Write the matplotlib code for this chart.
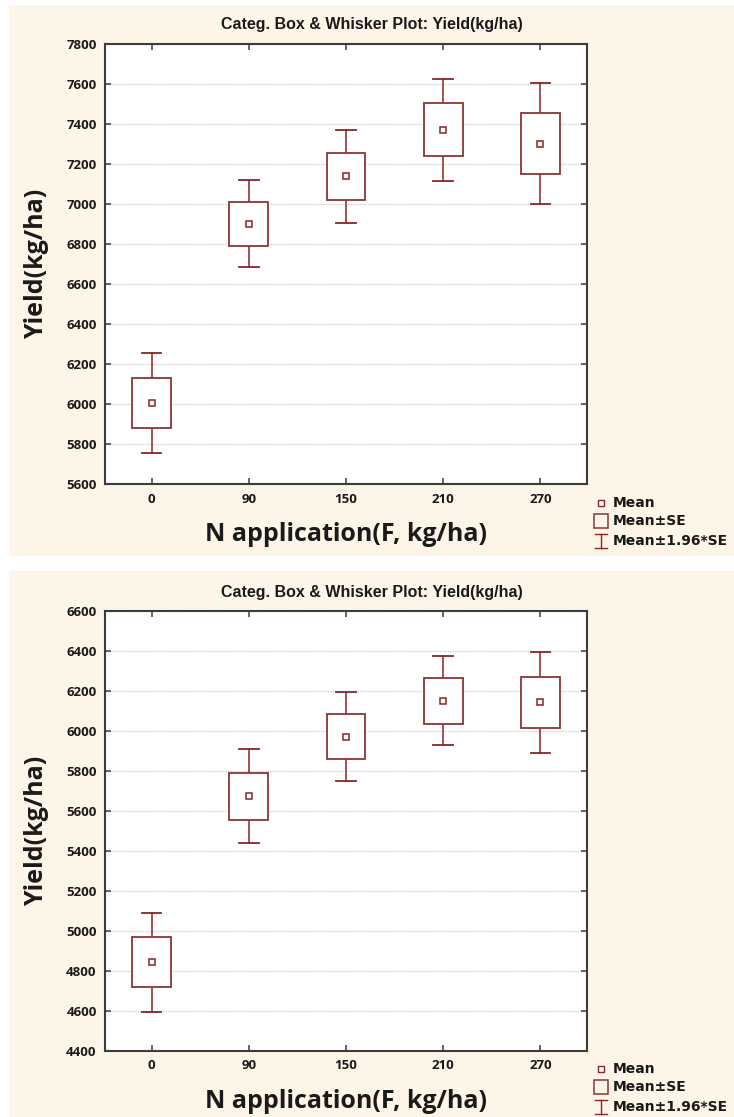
import matplotlib
matplotlib.use("Agg")
import matplotlib.pyplot as plt
from matplotlib.patches import Rectangle
from matplotlib.lines import Line2D

# ---------------- data ----------------
categories = ['0', '90', '150', '210', '270']

top_mean = [6007, 6900, 7140, 7368, 7302]
top_box_lo = [5880, 6792, 7022, 7240, 7152]
top_box_hi = [6132, 7011, 7255, 7503, 7457]
top_wh_lo = [5758, 6685, 6908, 7117, 7003]
top_wh_hi = [6258, 7120, 7368, 7625, 7605]

bot_mean = [4842, 5673, 5970, 6150, 6145]
bot_box_lo = [4717, 5552, 5857, 6035, 6015]
bot_box_hi = [4968, 5790, 6083, 6262, 6270]
bot_wh_lo = [4595, 5438, 5748, 5927, 5890]
bot_wh_hi = [5088, 5907, 6193, 6372, 6393]

top_yticks = list(range(5600, 7801, 200))
bot_yticks = list(range(4400, 6601, 200))

title_text = 'Categ. Box & Whisker Plot: Yield(kg/ha)'
xlabel_text = 'N application(F, kg/ha)'
ylabel_text = 'Yield(kg/ha)'
legend_labels = ['Mean', 'Mean±SE', 'Mean±1.96*SE']

# ---------------- style ----------------
W, H = 734, 1117
DPI = 100
RED = '#8A2424'
BOX_RED = '#8E3434'
CREAM = '#FDF5E8'
SPINE = '#3c3c3c'
FONT = ['Open Sans', 'DejaVu Sans']
LEGFONT = ['DejaVu Sans']
NARROW = ['Liberation Sans Narrow', 'Liberation Sans', 'DejaVu Sans']

fig = plt.figure(figsize=(W / DPI, H / DPI), dpi=DPI, facecolor='white')


def px_rect(x0, y0, x1, y1):
    """pixel box (top-left origin) -> figure fraction [l, b, w, h]"""
    return [x0 / W, 1 - y1 / H, (x1 - x0) / W, (y1 - y0) / H]


# cream panels
for (y0, y1) in [(5, 556), (571, 1117)]:
    l, b, w, h = px_rect(9, y0, 734, y1)
    fig.patches.append(Rectangle((l, b), w, h, transform=fig.transFigure,
                                 facecolor=CREAM, edgecolor='none', zorder=-5))


def draw_panel(rect_px, mean, blo, bhi, wlo, whi, yticks, title_y):
    ax = fig.add_axes(px_rect(*rect_px))
    ax.set_zorder(1)
    ax.set_facecolor('white')
    x = list(range(len(categories)))
    bw = 0.40
    cw = 0.20
    for i in x:
        ax.plot([i, i], [bhi[i], whi[i]], color=RED, lw=1.1, zorder=3)
        ax.plot([i, i], [wlo[i], blo[i]], color=RED, lw=1.1, zorder=3)
        ax.plot([i - cw / 2, i + cw / 2], [whi[i], whi[i]], color=RED, lw=1.3, zorder=3)
        ax.plot([i - cw / 2, i + cw / 2], [wlo[i], wlo[i]], color=RED, lw=1.3, zorder=3)
        ax.add_patch(Rectangle((i - bw / 2, blo[i]), bw, bhi[i] - blo[i],
                               facecolor='white', edgecolor=BOX_RED, lw=1.3, zorder=4))
    ax.plot(x, mean, linestyle='none', marker='s', ms=5, mfc='white',
            mec=RED, mew=1.1, zorder=5)

    ax.set_xlim(-0.48, len(categories) - 1 + 0.48)
    ax.set_ylim(yticks[0], yticks[-1])
    ax.set_xticks(x)
    ax.set_xticklabels(categories)
    ax.set_yticks(yticks)
    ax.set_yticklabels([str(v) for v in yticks])
    ax.grid(axis='y', color='#c9c9c9', linestyle=(0, (1, 1)), lw=0.9, zorder=1)
    ax.set_axisbelow(True)
    ax.tick_params(direction='in', length=4, width=1.1, color=SPINE,
                   top=True, right=True, labelsize=9.5)
    ax.tick_params(axis='x', pad=6)
    ax.tick_params(axis='y', pad=6)
    for lab in ax.get_xticklabels() + ax.get_yticklabels():
        lab.set_fontfamily(FONT)
        lab.set_fontweight('bold')
        lab.set_color('#1a1a1a')
    for s in ax.spines.values():
        s.set_color(SPINE)
        s.set_linewidth(1.5)
    ax.set_xlabel(xlabel_text, fontsize=18, fontweight='bold', family=FONT,
                  color='#1a1a1a', labelpad=12)
    ax.set_ylabel(ylabel_text, fontsize=18, fontweight='bold', family=FONT,
                  color='#1a1a1a', labelpad=12)
    fig.text(0.507, 1 - title_y / H, title_text, ha='center', va='center',
             fontsize=11.5, fontweight='bold', family=NARROW, color='#1a1a1a')

    # legend (drawn manually, axes-fraction coords)
    tr = ax.transAxes
    x_sym = 1.029
    x_txt = 1.054
    ys = [-0.043, -0.084, -0.128]
    ax.add_line(Line2D([x_sym], [ys[0]], marker='s', ms=4.5, mfc='white', mec=RED,
                       mew=1.0, transform=tr, clip_on=False))
    ax.add_patch(Rectangle((x_sym - 0.014, ys[1] - 0.016), 0.028, 0.032,
                           transform=tr, facecolor='none', edgecolor=BOX_RED,
                           lw=1.1, clip_on=False))
    ax.add_line(Line2D([x_sym, x_sym], [ys[2] - 0.016, ys[2] + 0.016], color=RED,
                       lw=1.0, transform=tr, clip_on=False))
    for yy in (ys[2] - 0.016, ys[2] + 0.016):
        ax.add_line(Line2D([x_sym - 0.013, x_sym + 0.013], [yy, yy], color=RED,
                           lw=1.0, transform=tr, clip_on=False))
    for yy, t in zip(ys, legend_labels):
        ax.text(x_txt, yy, t, transform=tr, ha='left', va='center', fontsize=10,
                fontweight='bold', family=LEGFONT, color='#1a1a1a', clip_on=False)
    return ax


draw_panel((105, 44, 587, 484.3), top_mean, top_box_lo, top_box_hi,
           top_wh_lo, top_wh_hi, top_yticks, 25)
draw_panel((105, 610.7, 587, 1050.5), bot_mean, bot_box_lo, bot_box_hi,
           bot_wh_lo, bot_wh_hi, bot_yticks, 592)

fig.savefig('out.png', dpi=DPI, facecolor='white')
